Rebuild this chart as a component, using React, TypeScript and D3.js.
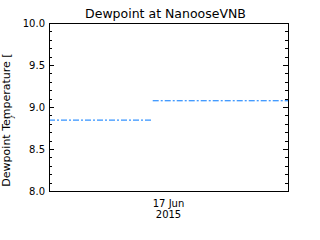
import React from "react";
import * as d3 from "d3";

const title = "Dewpoint at NanooseVNB";
const yLabel = "Dewpoint Temperature [";
const yTicks = [8.0, 8.5, 9.0, 9.5, 10.0];
const xTickLabels = ["17 Jun", "2015"];
const xTickDate = new Date(Date.UTC(2015, 5, 17, 0, 0));
const xDomain = [new Date(Date.UTC(2015, 5, 16, 0, 0)), new Date(Date.UTC(2015, 5, 18, 0, 0))];

// two data runs, separated by a gap
const seriesATimes = [new Date(Date.UTC(2015, 5, 16, 0, 0)), new Date(Date.UTC(2015, 5, 16, 20, 40))];
const seriesAValues = [8.85, 8.85];
const seriesBTimes = [new Date(Date.UTC(2015, 5, 16, 20, 50)), new Date(Date.UTC(2015, 5, 18, 0, 0))];
const seriesBValues = [9.08, 9.08];

const W = 320, H = 240;
const L = 49, R = 288, T = 23, B = 191;
const FONT = "DejaVu Sans, sans-serif";
const COLOR = "#0077ff";

export default function App() {
  const x = d3.scaleUtc().domain(xDomain).range([L, R]);
  const y = d3.scaleLinear().domain([8, 10]).range([B, T]);
  const minor = d3.range(80, 101).map((v) => v / 10);
  const line = d3
    .line<[Date, number]>()
    .x((d) => x(d[0]))
    .y((d) => y(d[1]));
  const a = seriesATimes.map((t, i) => [t, seriesAValues[i]] as [Date, number]);
  const b = seriesBTimes.map((t, i) => [t, seriesBValues[i]] as [Date, number]);
  const isMajor = (v: number) => Math.abs(v * 2 - Math.round(v * 2)) < 1e-6;

  return (
    <svg width={W} height={H} style={{ position: "absolute", left: 0, top: 0, background: "#fff" }}>
      <rect x={0} y={0} width={W} height={H} fill="#fff" />
      <text x={(L + R) / 2 - 3} y={18} fontFamily={FONT} fontSize={12.5} textAnchor="middle" fill="#000">
        {title}
      </text>
      <text
        transform="translate(10,120) rotate(-90)"
        fontFamily={FONT}
        fontSize={11}
        textAnchor="middle"
        fill="#000"
      >
        {yLabel}
      </text>
      <text transform="translate(14,117) rotate(-90)" fontFamily={FONT} fontSize={8} textAnchor="middle" fill="#000">
        {"}"}
      </text>
      {minor.map((v) => {
        const len = isMajor(v) ? 5 : 3;
        return (
          <g key={v}>
            <line x1={L} x2={L + len} y1={Math.round(y(v)) + 0.5} y2={Math.round(y(v)) + 0.5} stroke="#000" />
            <line x1={R} x2={R - len} y1={Math.round(y(v)) + 0.5} y2={Math.round(y(v)) + 0.5} stroke="#000" />
          </g>
        );
      })}
      {yTicks.map((v) => (
        <text key={v} x={45} y={y(v) + 4} fontFamily={FONT} fontSize={10} textAnchor="end" fill="#000">
          {v.toFixed(1)}
        </text>
      ))}
      {xTickLabels.map((s, i) => (
        <text key={s} x={x(xTickDate)} y={207 + i * 11} fontFamily={FONT} fontSize={10} textAnchor="middle" fill="#000">
          {s}
        </text>
      ))}
      <path d={line(a) || ""} fill="none" stroke={COLOR} strokeWidth={1} strokeDasharray="6,2,2,2" transform="translate(0,0.5)" />
      <path d={line(b) || ""} fill="none" stroke={COLOR} strokeWidth={1} strokeDasharray="6,2,2,2" transform="translate(0,0.5)" />
      <rect x={L + 0.5} y={T + 0.5} width={R - L} height={B - T} fill="none" stroke="#000" strokeWidth={1} />
    </svg>
  );
}
